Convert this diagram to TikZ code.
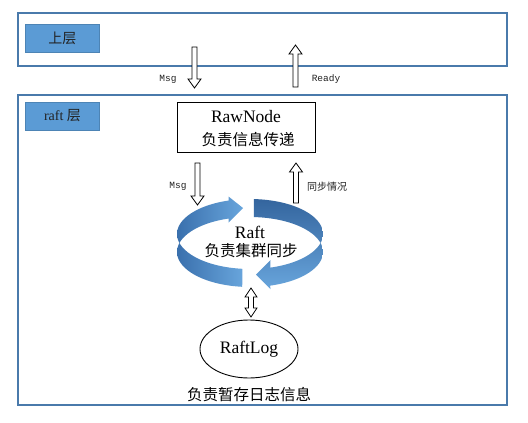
\documentclass[tikz,border=0pt]{standalone}
\usepackage{fontspec}
\setmainfont{Liberation Serif}
\newfontfamily\cjk{Noto Sans CJK SC}
\newfontfamily\monof{Liberation Mono}
\usetikzlibrary{shapes.geometric}
\definecolor{frameblue}{HTML}{4A7AAB}
\definecolor{labelblue}{HTML}{5B9BD5}
\definecolor{ribdark}{HTML}{3A70AD}
\definecolor{ribdeep}{HTML}{34659E}
\definecolor{riblight}{HTML}{68A5DC}
\definecolor{textdark}{HTML}{222222}
\tikzset{
  layerbox/.style={draw=frameblue, line width=2pt},
  tagbox/.style={fill=labelblue, draw=labelblue!85!black, line width=0.4pt, minimum width=74pt, minimum height=28pt, inner sep=0pt, text=textdark},
  plainbox/.style={draw=black, line width=1pt, fill=white, minimum width=138pt, minimum height=50pt, inner sep=0pt, align=center},
  logell/.style={ellipse, draw=black, line width=0.9pt, minimum width=98pt, minimum height=58pt, inner sep=0pt},
  blockarrow/.style={draw=black, line width=0.8pt, fill=white, line join=miter},
  smalllab/.style={font=\monof\fontsize{9.5}{11}\selectfont, text=textdark, inner sep=0pt},
  cjklab/.style={font=\cjk\fontsize{10}{12}\selectfont, text=textdark, inner sep=0pt},
}
% hollow block arrows: x, y of tail, y of tip
\newcommand{\hollowdown}[3]{%
  \draw[blockarrow] (#1-2.5,#2) -- (#1+2.5,#2) -- (#1+2.5,#3-9) -- (#1+6.5,#3-9) -- (#1,#3) -- (#1-6.5,#3-9) -- (#1-2.5,#3-9) -- cycle;}
\newcommand{\hollowup}[3]{%
  \draw[blockarrow] (#1-2.5,#2) -- (#1+2.5,#2) -- (#1+2.5,#3+9) -- (#1+6.5,#3+9) -- (#1,#3) -- (#1-6.5,#3+9) -- (#1-2.5,#3+9) -- cycle;}
\begin{document}
\begin{tikzpicture}[x=1pt, y=-1pt]
\useasboundingbox (0,0) rectangle (528,423);
\fill[white] (0,0) rectangle (528,423);

% layers
\draw[layerbox] (18,13) rectangle (507,66);
\draw[layerbox] (18,95) rectangle (507,405);
\node[tagbox, font=\cjk\fontsize{14}{16}\selectfont] (upper) at (62.5,38.5) {上层};
\node[tagbox, font=\fontsize{14}{16}\selectfont] (raftlayer) at (62.5,116) {raft {\cjk 层}};

% RawNode
\node[plainbox] (rawnode) at (246,127) {};
\node[font=\fontsize{17.5}{20}\selectfont, inner sep=0pt] (rawtitle) at (246,117) {RawNode};
\node[font=\cjk\fontsize{15.5}{18}\selectfont, inner sep=0pt] (rawsub) at (248,140) {负责信息传递};

% arrows between upper layer and RawNode
\hollowdown{194.5}{47}{88}
\hollowup{295.5}{87}{45}
\node[smalllab] (msg1) at (168,79) {Msg};
\node[smalllab] (ready) at (326,79) {Ready};

% arrows between RawNode and Raft
\hollowdown{197.5}{163}{205}
\hollowup{296}{203}{163}
\node[smalllab] (msg2) at (178,186) {Msg};
\node[cjklab] (sync) at (327,187) {同步情况};

% Raft ribbon
\def\cx{250}\def\cy{234}\def\rx{73}\def\ry{35}\def\hh{18}
\shade[left color=ribdark, right color=riblight]
  plot[domain=0:1, samples=60, variable=\s] ({\cx+\rx*cos(264-157*\s)},{\cy-\ry*sin(264-157*\s)})
  -- (228.5,196.5) -- (243,208) -- (228.5,222.5)
  -- plot[domain=0:1, samples=60, variable=\s] ({\cx+\rx*cos(107+157*\s)},{\cy+\hh-\ry*sin(107+157*\s)})
  -- cycle;
\shade[top color=ribdeep, bottom color=riblight]
  plot[domain=0:1, samples=60, variable=\s] ({\cx+\rx*cos(87-161*\s)},{\cy-\ry*sin(87-161*\s)})
  -- (270.5,260) -- (256,274.5) -- (270.5,289)
  -- plot[domain=0:1, samples=60, variable=\s] ({\cx+\rx*cos(-74+161*\s)},{\cy+\hh-\ry*sin(-74+161*\s)})
  -- cycle;
\node[font=\fontsize{17.5}{20}\selectfont, inner sep=0pt] (raft) at (250,232) {Raft};
\node[font=\cjk\fontsize{15.5}{18}\selectfont, inner sep=0pt] (raftsub) at (251,251) {负责集群同步};

% double arrow Raft <-> RaftLog
\draw[blockarrow] (248.5,297) -- (248.5,308) -- (245,308) -- (251,317) -- (257,308) -- (253.5,308)
  -- (253.5,297) -- (257,297) -- (251,288) -- (245,297) -- cycle;

% RaftLog
\node[logell, font=\fontsize{17.5}{20}\selectfont] (raftlog) at (249,349) {RaftLog};
\node[font=\cjk\fontsize{15.5}{18}\selectfont, inner sep=0pt] (logsub) at (249,395) {负责暂存日志信息};
\end{tikzpicture}
\end{document}
